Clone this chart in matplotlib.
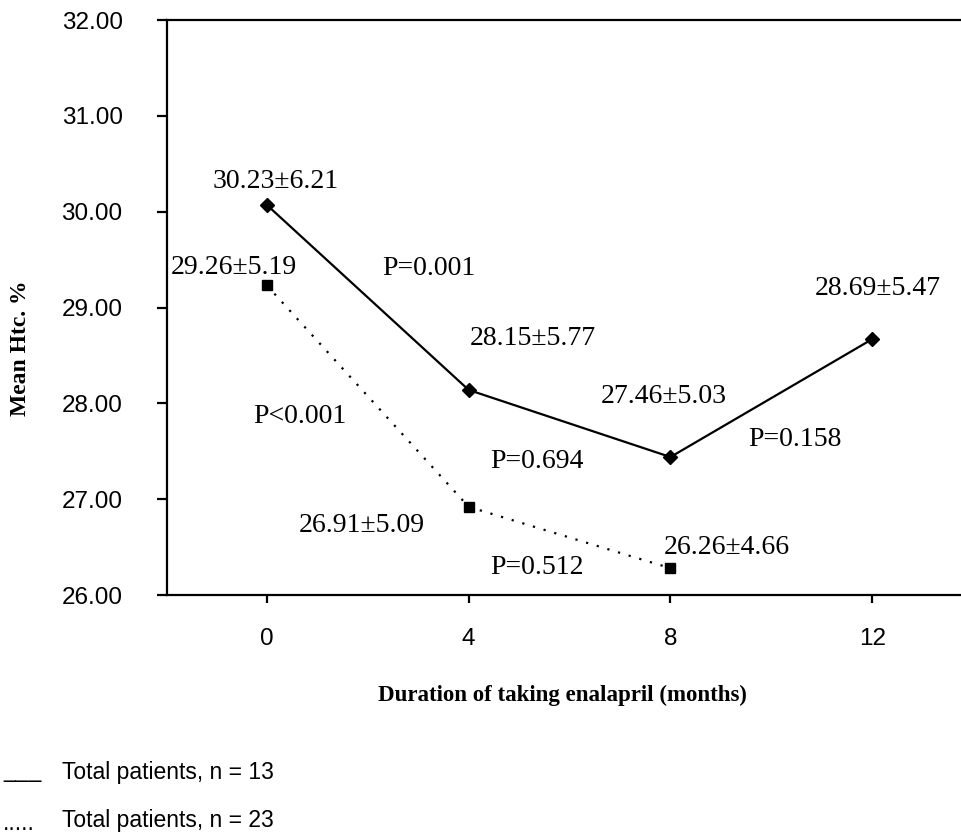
import matplotlib.pyplot as plt

months = [0, 4, 8, 12]
hct_n13 = [30.07, 28.14, 27.44, 28.67]
hct_n23 = [29.23, 26.92, 26.28]
months_n23 = [0, 4, 8]

# annotation text and its (month, Hct) position
labels = [
    ("30.23\u00b16.21", 0.17, 30.31),
    ("29.26\u00b15.19", -0.66, 29.42),
    ("P=0.001", 3.22, 29.41),
    ("28.15\u00b15.77", 5.27, 28.68),
    ("P<0.001", 0.65, 27.86),
    ("P=0.694", 5.36, 27.39),
    ("26.91\u00b15.09", 1.88, 26.73),
    ("P=0.512", 5.36, 26.29),
    ("27.46\u00b15.03", 7.86, 28.07),
    ("P=0.158", 10.47, 27.62),
    ("26.26\u00b14.66", 9.12, 26.50),
    ("28.69\u00b15.47", 12.11, 29.20),
]

yticks = [26, 27, 28, 29, 30, 31, 32]

fig = plt.figure(figsize=(9.61, 8.35), dpi=100)
ax = fig.add_axes([0.1738, 0.2874, 0.8262, 0.6886])

ax.plot(months, hct_n13, color="black", lw=1.6, marker="D", markersize=7.5)
ax.plot(months_n23, hct_n23, color="black", lw=1.6, linestyle=(0, (1, 4)),
        marker="s", markersize=7)

for text, x, y in labels:
    ax.text(x, y, text, ha="center", va="center", fontsize=20,
            family="Liberation Serif")

ax.set_xlim(-1.98, 13.76)
ax.set_ylim(26, 32)
ax.set_xticks(months)
ax.set_yticks(yticks)
ax.set_yticklabels([f"{v:.2f}" for v in yticks])
ax.spines["right"].set_visible(False)
for side in ("left", "bottom", "top"):
    ax.spines[side].set_linewidth(1.6)
ax.tick_params(axis="y", length=7, width=1.6, pad=25)
ax.tick_params(axis="x", length=6, width=1.6, pad=18)
for lab in ax.get_xticklabels() + ax.get_yticklabels():
    lab.set_family("Liberation Sans")
    lab.set_fontsize(17.5)

fig.text(0.585, 1 - 695 / 835, "Duration of taking enalapril (months)",
         ha="center", va="center", fontsize=16.5, fontweight="bold",
         family="Liberation Serif")
fig.text(0.021, 1 - 348 / 835, "Mean Htc. %", ha="center", va="center",
         rotation=90, fontsize=17, fontweight="bold", family="Liberation Serif")

fig.text(0.003, 1 - 771 / 835, "___", ha="left", va="center", fontsize=16.5,
         family="Liberation Sans")
fig.text(0.065, 1 - 772 / 835, "Total patients, n = 13", ha="left",
         va="center", fontsize=16.5, family="Liberation Sans")
fig.text(0.003, 1 - 824 / 835, ".....", ha="left", va="center", fontsize=16.5,
         family="Liberation Sans")
fig.text(0.065, 1 - 821 / 835, "Total patients, n = 23", ha="left",
         va="center", fontsize=16.5, family="Liberation Sans")

fig.savefig("out.png", dpi=100)
